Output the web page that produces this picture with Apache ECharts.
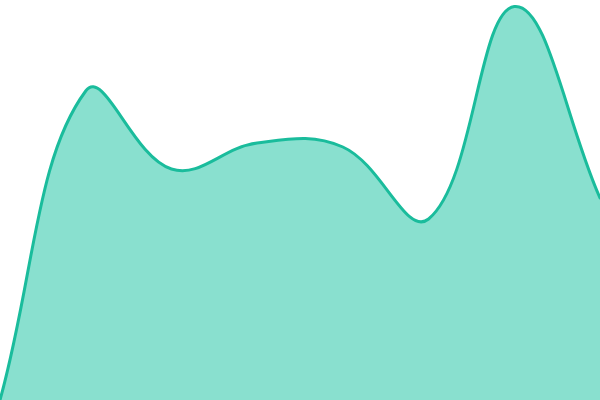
<!DOCTYPE html>
<html><head><meta charset="utf-8">
<script src="https://cdn.jsdelivr.net/npm/echarts@6/dist/echarts.min.js"></script>
<style>html,body{margin:0;padding:0;background:#fff}#c{width:600px;height:400px}</style>
</head><body><div id="c"></div>
<script>
var categories = ['1', '2', '3', '4', '5', '6', '7', '8'];
var values = [0, 309, 231, 257, 253, 181, 393.5, 202];
var tension = 0.4;

function splinePath(pts, rect) {
  var cps = pts.map(function (cur, i) {
    var prev = pts[i - 1] || cur, next = pts[i + 1] || cur;
    var d01 = Math.hypot(cur[0] - prev[0], cur[1] - prev[1]);
    var d12 = Math.hypot(next[0] - cur[0], next[1] - cur[1]);
    var s01 = d01 / (d01 + d12), s12 = d12 / (d01 + d12);
    if (isNaN(s01)) s01 = 0; if (isNaN(s12)) s12 = 0;
    var fa = tension * s01, fb = tension * s12;
    var vx = next[0] - prev[0], vy = next[1] - prev[1];
    function cap(p) {
      return [Math.min(Math.max(p[0], rect.x), rect.x + rect.width),
              Math.min(Math.max(p[1], rect.y), rect.y + rect.height)];
    }
    return {
      prev: cap([cur[0] - fa * vx, cur[1] - fa * vy]),
      next: cap([cur[0] + fb * vx, cur[1] + fb * vy])
    };
  });
  var d = 'M' + pts[0][0] + ' ' + pts[0][1];
  for (var i = 1; i < pts.length; i++) {
    var c0 = cps[i - 1].next, c1 = cps[i].prev;
    d += ' C' + c0[0] + ' ' + c0[1] + ' ' + c1[0] + ' ' + c1[1] + ' ' + pts[i][0] + ' ' + pts[i][1];
  }
  return d;
}

var chart = echarts.init(document.getElementById('c'));
chart.setOption({
  animation: false,
  grid: {left: 0, right: 0, top: 0, bottom: 0},
  xAxis: {type: 'category', data: categories, boundaryGap: false, show: false},
  yAxis: {type: 'value', min: 0, max: 400, show: false},
  series: [{
    type: 'custom',
    clip: true,
    data: values.map(function (v, i) { return [i, v]; }),
    encode: {x: 0, y: 1},
    renderItem: function (params, api) {
      if (params.dataIndex !== 0) return null;
      var rect = params.coordSys;
      var pts = values.map(function (v, i) { return api.coord([i, v]); });
      var base = api.coord([0, 0])[1];
      var line = splinePath(pts, rect);
      var area = line + ' L' + pts[pts.length - 1][0] + ' ' + base + ' L' + pts[0][0] + ' ' + base + ' Z';
      return {
        type: 'group',
        children: [
          {type: 'path', shape: {pathData: area}, style: {fill: '#89e0cf', stroke: null}},
          {type: 'path', shape: {pathData: line}, style: {fill: null, stroke: '#1abc9c', lineWidth: 3, lineJoin: 'round', lineCap: 'round'}}
        ]
      };
    }
  }]
});
</script></body></html>
